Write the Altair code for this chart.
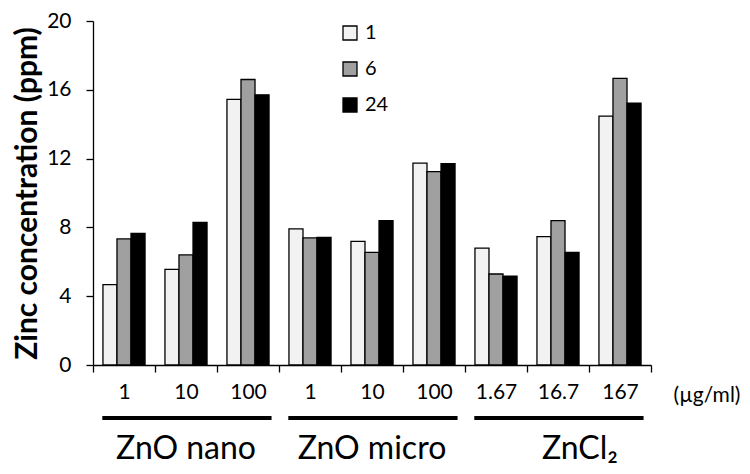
import altair as alt
import pandas as pd

# ---- data ----
group_names = ["ZnO nano", "ZnO micro", "ZnCl2"]
group_titles = ["ZnO nano", "ZnO micro", "ZnCl₂"]
doses = ["1", "10", "100", "1", "10", "100", "1.67", "16.7", "167"]
dose_group = ["ZnO nano"] * 3 + ["ZnO micro"] * 3 + ["ZnCl2"] * 3
series = ["1", "6", "24"]
h1 = [4.67, 5.56, 15.44, 7.91, 7.19, 11.74, 6.80, 7.46, 14.47]
h6 = [7.33, 6.40, 16.60, 7.39, 6.55, 11.24, 5.29, 8.39, 16.66]
h24 = [7.65, 8.29, 15.71, 7.42, 8.39, 11.70, 5.16, 6.55, 15.23]
y_ticks = [0, 4, 8, 12, 16, 20]
unit_label = "(µg/ml)"
y_title = "Zinc concentration (ppm)"
colors = ["#f2f2f2", "#a0a0a0", "#000000"]

keys = [f"{g}|{d}" for g, d in zip(dose_group, doses)]
rows = []
for i, k in enumerate(keys):
    for s, vals in zip(series, [h1, h6, h24]):
        rows.append({"key": k, "hours": s, "value": vals[i]})
df = pd.DataFrame(rows)

grp_rows = []
for g, t in zip(group_names, group_titles):
    ks = [k for k, dg in zip(keys, dose_group) if dg == g]
    grp_rows.append({"key": ks[0], "key2": ks[-1], "mid": ks[1], "title": t, "name": g})
gdf = pd.DataFrame(grp_rows)

FONT = "Lato"

xscale = alt.Scale(domain=keys, paddingInner=0, paddingOuter=0)

bars = alt.Chart(df).mark_bar(stroke="black", strokeWidth=1.3).encode(
    x=alt.X(
        "key:N",
        sort=keys,
        scale=xscale,
        axis=alt.Axis(
            title=None,
            labelExpr="split(datum.label, '|')[1]",
            tickBand="extent",
            labelAngle=0,
            labelFontSize=21,
            labelPadding=9,
            tickSize=7,
        ),
    ),
    xOffset=alt.XOffset(
        "hours:N", sort=series,
        scale=alt.Scale(domain=series, paddingInner=0, paddingOuter=0.71),
    ),
    y=alt.Y(
        "value:Q",
        scale=alt.Scale(domain=[0, 20], nice=False),
        axis=alt.Axis(
            title=y_title,
            values=y_ticks,
            grid=False,
            tickSize=7,
            labelFontSize=21,
            labelPadding=15,
            titleFontSize=30,
            titleFontWeight="bold",
            titlePadding=4,
        ),
    ),
    color=alt.Color(
        "hours:N",
        sort=series,
        scale=alt.Scale(domain=series, range=colors),
        legend=alt.Legend(
            orient="none",
            legendX=247,
            legendY=2,
            title=None,
            symbolType="square",
            symbolSize=196,
            symbolStrokeColor="black",
            symbolStrokeWidth=1.3,
            labelFontSize=20,
            labelFont=FONT,
            labelColor="black",
            labelOffset=5,
            rowPadding=16,
        ),
    ),
)

rules = alt.Chart(gdf).mark_rule(color="black", strokeWidth=4).encode(
    x=alt.X("key:N", bandPosition=0.15, scale=xscale),
    x2=alt.X2("key2:N", bandPosition=0.88),
    y=alt.value(397),
)

labels_main = alt.Chart(gdf[gdf["name"] != "ZnCl2"]).mark_text(
    font=FONT, fontSize=32, baseline="middle", color="black"
).encode(
    x=alt.X("mid:N", scale=xscale),
    y=alt.value(428),
    text="title:N",
)

labels_cl = alt.Chart(gdf[gdf["name"] == "ZnCl2"]).mark_text(
    font=FONT, fontSize=32, baseline="middle", color="black", dx=22
).encode(
    x=alt.X("mid:N", scale=xscale),
    y=alt.value(428),
    text="title:N",
)

unit = alt.Chart(pd.DataFrame({"t": [unit_label]})).mark_text(
    font=FONT, fontSize=21, baseline="middle", align="center", color="black"
).encode(
    x=alt.value(614),
    y=alt.value(375),
    text="t:N",
)

chart = alt.layer(bars, rules, labels_main, labels_cl, unit).properties(
    width=558,
    height=344,
    autosize=alt.AutoSizeParams(type="none"),
    padding={"left": 85, "top": 13, "right": 91, "bottom": 101},
).configure_view(stroke=None).configure_axis(
    domainColor="black",
    tickColor="black",
    labelColor="black",
    titleColor="black",
    labelFont=FONT,
    titleFont=FONT,
    domainWidth=1.3,
    tickWidth=1.3,
)

chart.save("out.html", embed_options={"renderer": "svg", "actions": False})
